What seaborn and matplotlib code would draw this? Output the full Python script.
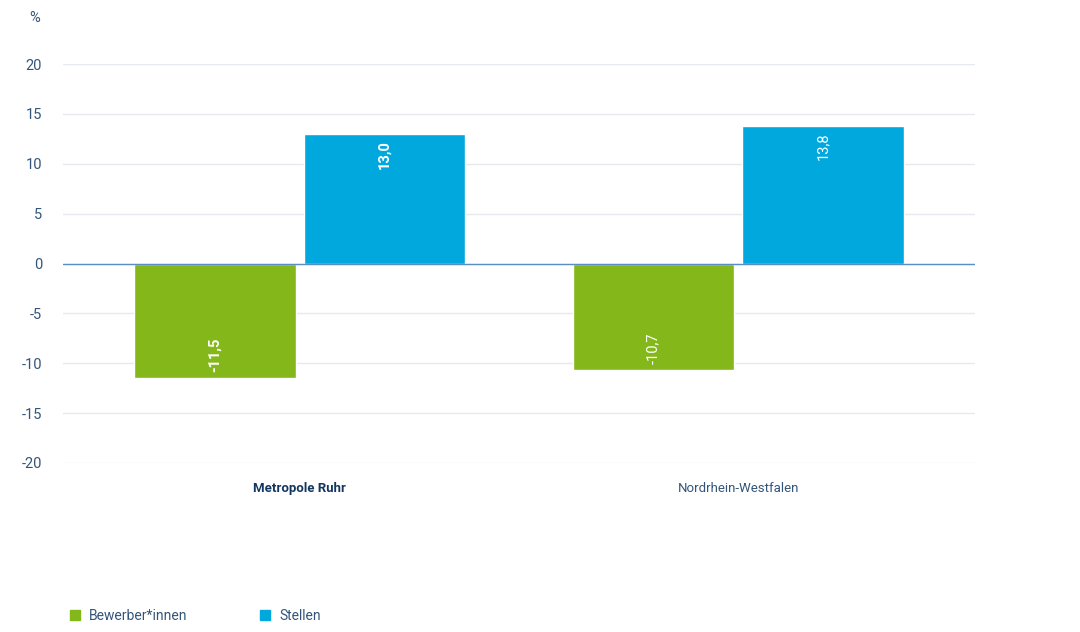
import pandas as pd
import seaborn as sns
import matplotlib.pyplot as plt
from matplotlib.lines import Line2D

# Data
regions = ["Metropole Ruhr", "Nordrhein-Westfalen"]
series = ["Bewerber*innen", "Stellen"]
bewerber = [-11.5, -10.7]
stellen = [13.0, 13.8]
colors = ["#84B81A", "#00A8DE"]
yticks = [-20, -15, -10, -5, 0, 5, 10, 15, 20]

df = pd.DataFrame({
    "region": regions * 2,
    "serie": [series[0]] * 2 + [series[1]] * 2,
    "value": bewerber + stellen,
})

sns.set_theme(style="white")
plt.rcParams['font.family'] = ['Roboto', 'DejaVu Sans']
text_col = "#34557A"
navy = "#123660"

fig = plt.figure(figsize=(10.8, 6.32), dpi=100)
ax = fig.add_axes([63 / 1080, 1 - 463 / 632, 912 / 1080, 399 / 632])

sns.barplot(data=df, x="region", y="value", hue="serie", hue_order=series,
            palette=colors, width=0.774, gap=0.047, saturation=1,
            legend=False, ax=ax, zorder=3)

ax.set_xlim(-0.539, 1.539)
ax.set_ylim(-20, 20)
ax.set_yticks(yticks)
ax.set_yticklabels([str(t) for t in yticks], fontsize=10.5, color=text_col)
ax.tick_params(axis="y", length=0, pad=15)
ax.tick_params(axis="x", length=0, pad=14)
ax.grid(axis="y", color="#E6E9EE", linewidth=1, zorder=0)
ax.axhline(0, color="#5B8FC4", linewidth=1, zorder=4)
for s in ax.spines.values():
    s.set_visible(False)
ax.set_xlabel("")
ax.set_ylabel("")

for lab, bold in zip(ax.get_xticklabels(), [True, False]):
    lab.set_fontsize(9.5)
    lab.set_color(navy if bold else text_col)
    lab.set_fontweight("bold" if bold else "normal")

# value labels inside the bars
for cont in ax.containers:
    for i, bar in enumerate(cont):
        h = bar.get_height()
        x = bar.get_x() + bar.get_width() / 2
        txt = f"{h:.1f}".replace(".", ",")
        ax.annotate(txt, xy=(x, h), xytext=(0, -4.5 if h > 0 else 4.5),
                    textcoords="offset points", rotation=90,
                    ha="center", va="top" if h > 0 else "bottom",
                    color="white", fontsize=10.5,
                    fontweight="bold" if i == 0 else "normal", zorder=5)

fig.text(35 / 1080, 1 - 18 / 632, "%", fontsize=10.5, color=text_col,
         ha="center", va="center")

handles = [Line2D([], [], marker="s", linestyle="", markersize=7.5,
                  markerfacecolor=c, markeredgecolor=c) for c in colors]
fig.legend(handles, series, loc="center left", bbox_to_anchor=(57 / 1080, 16 / 632),
           ncol=2, frameon=False, fontsize=10, handlelength=0.8,
           handletextpad=0.6, columnspacing=5.2, labelcolor=text_col)

fig.savefig("out.png", dpi=100)
